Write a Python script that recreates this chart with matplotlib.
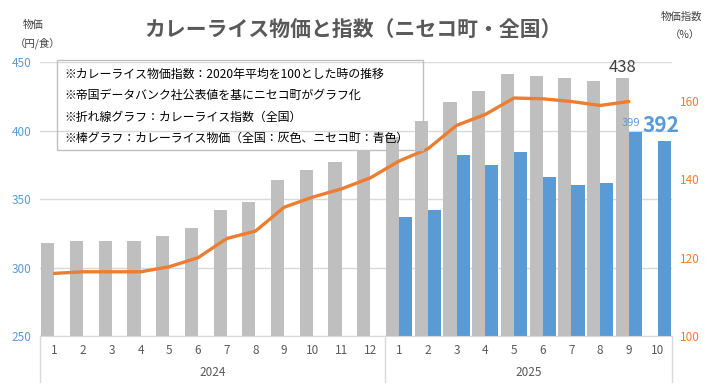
import numpy as np
import matplotlib
matplotlib.use("Agg")
import matplotlib.pyplot as plt
import matplotlib.transforms as mtransforms
from matplotlib.patches import Rectangle

plt.rcParams['font.family'] = ['Noto Sans CJK JP', 'DejaVu Sans']

# data
years = ["2024", "2025"]
months = [str(m) for m in range(1, 13)] + [str(m) for m in range(1, 11)]
price_zenkoku = [318, 319, 319, 319, 323, 329, 342, 348, 364, 371, 377, 386,
                 395, 407, 421, 429, 441, 440, 438, 436, 438, np.nan]
price_niseko = [np.nan] * 12 + [337, 342, 382, 375, 384, 366, 360, 362, 399, 392]
index_zenkoku = [116.0, 116.4, 116.4, 116.4, 117.7, 120.0, 124.9, 126.8, 132.9, 135.5, 137.6, 140.4,
                 144.7, 147.8, 153.8, 156.6, 160.8, 160.6, 159.9, 158.9, 159.9, np.nan]
notes = [
    "※カレーライス物価指数：2020年平均を100とした時の推移",
    "※帝国データバンク社公表値を基にニセコ町がグラフ化",
    "※折れ線グラフ：カレーライス指数（全国）",
    "※棒グラフ：カレーライス物価（全国：灰色、ニセコ町：青色）",
]

GRAY = '#BFBFBF'
BLUE = '#5B9BD5'
ORANGE = '#ED7D31'
TXT = '#595959'

fig = plt.figure(figsize=(7.18, 3.9), dpi=100)
W, H = 718, 390
ax = fig.add_axes([40 / W, 1 - 336 / H, (672 - 40) / W, (336 - 62) / H])
ax2 = ax.twinx()

x = np.arange(len(months))
w = 0.46
ax.bar(x - w / 2, price_zenkoku, width=w, color=GRAY, zorder=2)
ax.bar(x + w / 2, price_niseko, width=w, color=BLUE, zorder=2)
ax2.plot(x, index_zenkoku, color=ORANGE, lw=2.4, solid_capstyle='round')

ax.set_xlim(-0.5, len(months) - 0.5)
ax.set_ylim(250, 450)
ax.set_yticks([250, 300, 350, 400, 450])
ax2.set_ylim(100, 170)
ax2.set_yticks([100, 120, 140, 160])

ax.grid(axis='y', color='#D9D9D9', lw=1, zorder=0)
ax.set_axisbelow(True)
for a in (ax, ax2):
    for s in ('top', 'left', 'right'):
        a.spines[s].set_visible(False)
    a.spines['bottom'].set_color('#D9D9D9')
ax2.spines['bottom'].set_visible(False)

ax.tick_params(axis='y', length=0, labelsize=8.5, labelcolor=BLUE, pad=6)
ax2.tick_params(axis='y', length=0, labelsize=8.5, labelcolor=ORANGE, pad=6)
ax.set_xticks(x)
ax.set_xticklabels(months)
ax.tick_params(axis='x', length=0, labelsize=8.5, labelcolor=TXT, pad=6)

# year level of category axis
tr = mtransforms.blended_transform_factory(ax.transData, ax.transAxes)
low = -(382 - 336) / (336 - 62)
for xb in (-0.5, 11.5, len(months) - 0.5):
    ax.plot([xb, xb], [0, low], transform=tr, color='#D9D9D9', lw=1, clip_on=False)
ax.text(5.5, -(373 - 336) / (336 - 62), years[0], transform=tr, ha='center', va='center',
        fontsize=8.5, color=TXT)
ax.text(16.5, -(373 - 336) / (336 - 62), years[1], transform=tr, ha='center', va='center',
        fontsize=8.5, color=TXT)

# data labels
ax.annotate(f"{price_zenkoku[20]:.0f}", (20 - w / 2, price_zenkoku[20]), xytext=(0, 2),
            textcoords='offset points', ha='center', va='bottom', fontsize=12, color='#404040')
ax.annotate(f"{price_niseko[20]:.0f}", (20 + w / 2, price_niseko[20]), xytext=(-3, 3),
            textcoords='offset points', ha='center', va='bottom', fontsize=8, color=BLUE)
ax.annotate(f"{price_niseko[21]:.0f}", (21 + w / 2, price_niseko[21]), xytext=(-2, 4),
            textcoords='offset points', ha='center', va='bottom', fontsize=15,
            fontweight='bold', color=BLUE)

# title and axis titles
fig.text(353 / W, 1 - 30 / H, "カレーライス物価と指数（ニセコ町・全国）", ha='center', va='center',
         fontsize=15, fontweight='bold', color=TXT)
fig.text(33 / W, 1 - 25 / H, "物価", ha='center', va='center', fontsize=7.5, color='#404040')
fig.text(38 / W, 1 - 43 / H, "（円/食）", ha='center', va='center', fontsize=7.5, color='#404040')
fig.text(681 / W, 1 - 17 / H, "物価指数", ha='center', va='center', fontsize=7.5, color='#404040')
fig.text(685 / W, 1 - 35 / H, "（%）", ha='center', va='center', fontsize=7.5, color='#404040')

# note box
fig.add_artist(Rectangle((57 / W, 1 - 150 / H), (423 - 57) / W, (150 - 60) / H,
                         transform=fig.transFigure, fill=False, edgecolor='#BFBFBF', lw=1))
for i, t in enumerate(notes):
    fig.text(64 / W, 1 - (74 + 21.5 * i) / H, t, ha='left', va='center', fontsize=8.6, color='#000000')

fig.savefig("out.png", dpi=100)
